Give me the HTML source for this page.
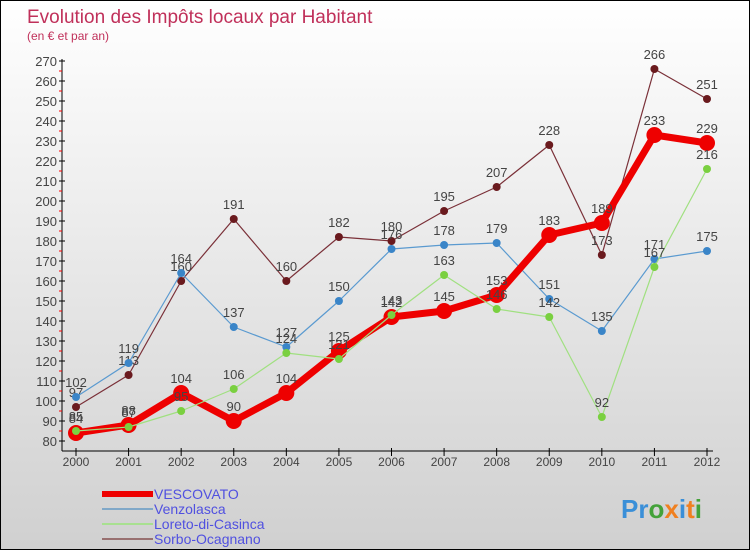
<!DOCTYPE html>
<html><head><meta charset="utf-8"><style>
body{margin:0}
#c{width:748px;height:548px;border:1px solid #000;background:linear-gradient(#fff,#ececec 40%,#d0d0d0);position:relative;font-family:"Liberation Sans",sans-serif;overflow:hidden}
</style></head><body>
<div id="c">
<svg id="s" width="748" height="548" style="position:absolute;left:0;top:0">
<text x="26" y="22" font-size="19" fill="#c0305a">Evolution des Impôts locaux par Habitant</text>
<text x="26" y="39" font-size="12" fill="#c0305a">(en € et par an)</text>
<g id="g"></g>
<text x="620" y="517" font-size="26" font-weight="bold"><tspan fill="#3a8fd8">Pr</tspan><tspan fill="#44a23a">o</tspan><tspan fill="#f08020">x</tspan><tspan fill="#3a8fd8">i</tspan><tspan fill="#f08020">t</tspan><tspan fill="#44a23a">i</tspan></text>
</svg>
</div>
<script>
const years=["2000","2001","2002","2003","2004","2005","2006","2007","2008","2009","2010","2011","2012"];
const yTicks=[80,90,100,110,120,130,140,150,160,170,180,190,200,210,220,230,240,250,260,270];
const vescovato=[84,88,104,90,104,125,142,145,153,183,189,233,229];
const venzolasca=[102,119,164,137,127,150,176,178,179,151,135,171,175];
const loreto=[85,87,95,106,124,121,143,163,146,142,92,167,216];
const sorbo=[97,113,160,191,160,182,180,195,207,228,173,266,251];
const NS="http://www.w3.org/2000/svg",g=document.getElementById('g');
const X=i=>75+i*(631/12), Y=v=>440-(v-80)*2;
function el(t,a,name){const e=document.createElementNS(NS,t);for(const k in a)e.setAttribute(k,a[k]);


g.appendChild(e);return e;}
el('line',{x1:61,y1:Y(270)-2,x2:61,y2:450,stroke:'#000'},'y-axis');
el('line',{x1:61,y1:450,x2:712,y2:450,stroke:'#000'},'x-axis');
yTicks.forEach(v=>{el('line',{x1:58,y1:Y(v),x2:64,y2:Y(v),stroke:'#000'},'y-tick');
if(v<270)el('line',{x1:58,y1:Y(v+5),x2:61,y2:Y(v+5),stroke:'red'},'y-minor-tick');
const t=el('text',{x:56,y:Y(v)+5,'text-anchor':'end','font-size':13,fill:'#444'},'y-tick-label');t.textContent=v;});
years.forEach((y,i)=>{el('line',{x1:X(i),y1:447,x2:X(i),y2:455,stroke:'#000'},'x-tick');
const t=el('text',{x:X(i),y:465,'text-anchor':'middle','font-size':12,fill:'#444'},'x-tick-label');t.textContent=y;});
function series(d,col,mc,w,r,name){
el('polyline',{points:d.map((v,i)=>X(i)+','+Y(v)).join(' '),fill:'none',stroke:col,'stroke-width':w,'stroke-linejoin':'round'},name+'-line');
d.forEach((v,i)=>{el('circle',{cx:X(i),cy:Y(v),r:r,fill:mc},name+'-point');
const t=el('text',{x:X(i),y:Y(v)-10,'text-anchor':'middle','font-size':13,fill:'#444'},name+'-value-label');t.textContent=v;});}
series(sorbo,'#7a3038','#6a1a1e',1.2,4,'sorbo');
series(venzolasca,'#5a9ad0','#3a85c8',1.2,4,'venzolasca');
series(vescovato,'#ee0000','#ee0000',7,8,'vescovato');
series(loreto,'#a0e080','#7ad040',1.2,4,'loreto');
const leg=[["VESCOVATO","#ee0000",6],["Venzolasca","#80a8c8",2],["Loreto-di-Casinca","#a8e090",2],["Sorbo-Ocagnano","#987070",2]];
leg.forEach((l,i)=>{const y=493+i*15;
el('line',{x1:101,y1:y,x2:152,y2:y,stroke:l[1],'stroke-width':l[2]},'legend-swatch');
const t=el('text',{x:153,y:y+5,'font-size':14,fill:'#5050e0'},'legend-entry');t.textContent=l[0];});
</script>
</body></html>
